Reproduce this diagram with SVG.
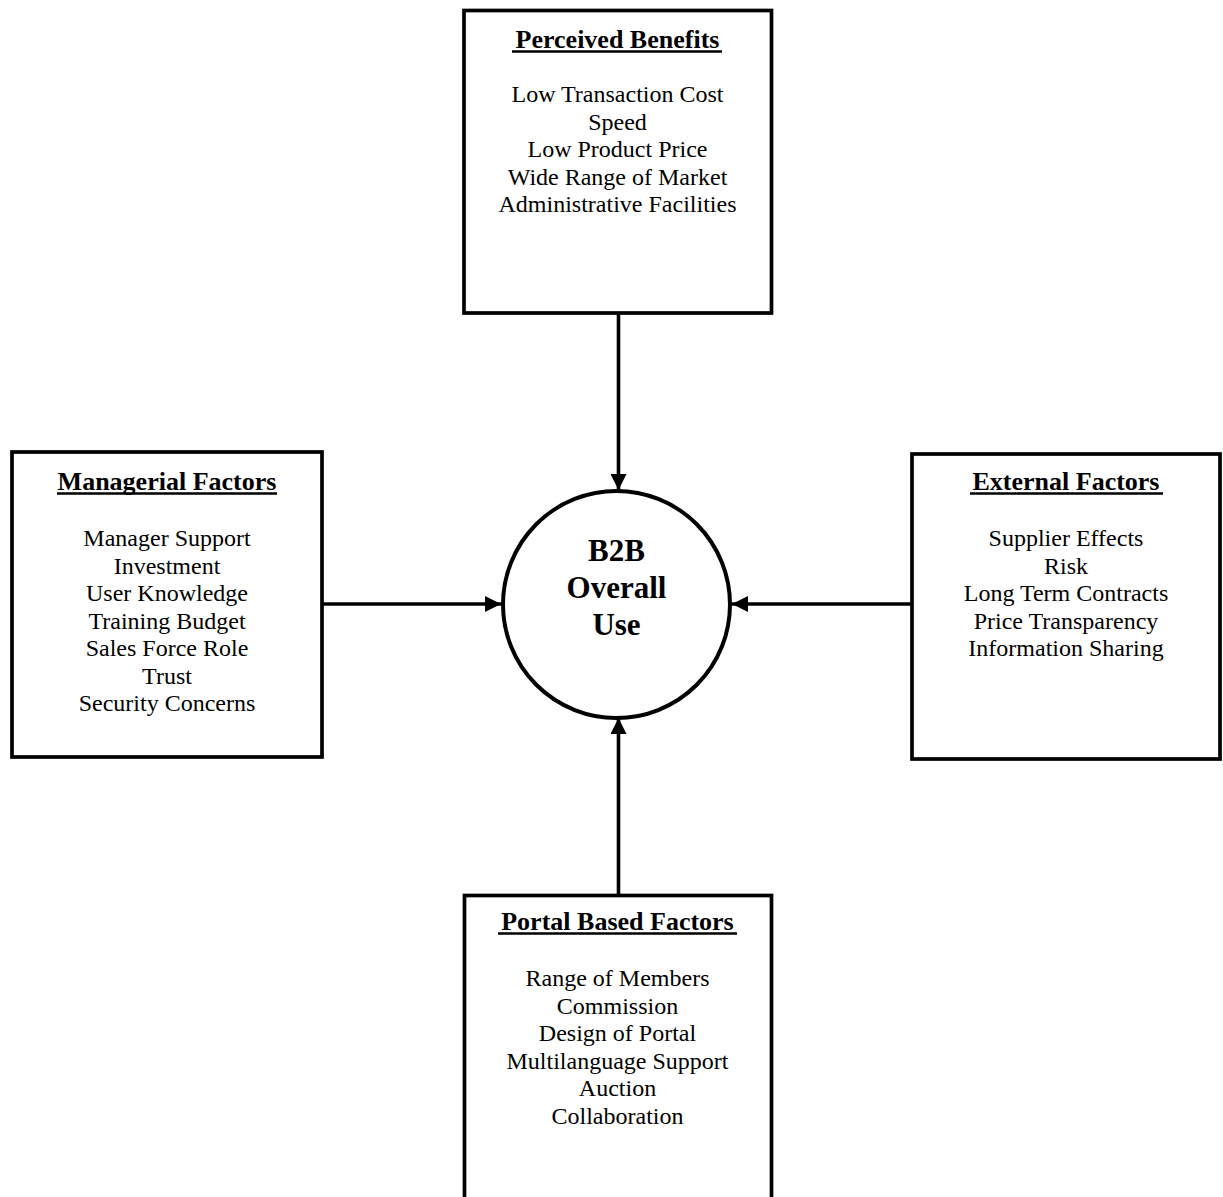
<svg xmlns="http://www.w3.org/2000/svg" width="1223" height="1197" viewBox="0 0 1223 1197">
  <style>
    .box { fill: #ffffff; stroke: #000000; stroke-width: 3.7; }
    .hub { fill: #ffffff; stroke: #000000; stroke-width: 4; }
    .title { font-family: "Liberation Serif", "Times New Roman", serif; font-weight: bold; font-size: 26px; text-anchor: middle; fill: #000; }
    .item { font-family: "Liberation Serif", "Times New Roman", serif; font-size: 24px; text-anchor: middle; fill: #000; }
    .hubtext { font-family: "Liberation Serif", "Times New Roman", serif; font-weight: bold; font-size: 31px; text-anchor: middle; fill: #000; }
    .ul { stroke: #000; stroke-width: 2.4; }
    .conn { stroke: #000; stroke-width: 3.6; fill: none; marker-end: url(#arrow); }
  </style>
  <defs>
    <marker id="arrow" markerUnits="userSpaceOnUse" markerWidth="16" markerHeight="16" refX="16" refY="8" orient="auto">
      <path d="M0,0 L16,8 L0,16 Z" fill="#000"/>
    </marker>
  </defs>
  <rect width="1223" height="1197" fill="#ffffff"/>

  <g id="connectors">
    <line class="conn" x1="618.5" y1="313" x2="618.5" y2="490"/>
    <line class="conn" x1="322" y1="604" x2="501" y2="604"/>
    <line class="conn" x1="912" y1="604" x2="732" y2="604"/>
    <line class="conn" x1="618.5" y1="895" x2="618.5" y2="718"/>
  </g>

  <g id="perceived-benefits">
    <rect class="box" x="464" y="10.5" width="307.5" height="302.5"/>
    <text class="title" x="617.5" y="48">Perceived Benefits</text>
    <line class="ul" x1="512" y1="51.5" x2="722" y2="51.5"/>
    <text class="item" x="617.5" y="102">Low Transaction Cost</text>
    <text class="item" x="617.5" y="129.5">Speed</text>
    <text class="item" x="617.5" y="157">Low Product Price</text>
    <text class="item" x="617.5" y="184.5">Wide Range of Market</text>
    <text class="item" x="617.5" y="212">Administrative Facilities</text>
  </g>

  <g id="managerial-factors">
    <rect class="box" x="12" y="452" width="310" height="305"/>
    <text class="title" x="167" y="490">Managerial Factors</text>
    <line class="ul" x1="57" y1="493.5" x2="277" y2="493.5"/>
    <text class="item" x="167" y="546">Manager Support</text>
    <text class="item" x="167" y="573.5">Investment</text>
    <text class="item" x="167" y="601">User Knowledge</text>
    <text class="item" x="167" y="628.5">Training Budget</text>
    <text class="item" x="167" y="656">Sales Force Role</text>
    <text class="item" x="167" y="683.5">Trust</text>
    <text class="item" x="167" y="711">Security Concerns</text>
  </g>

  <g id="external-factors">
    <rect class="box" x="912" y="454" width="308" height="305"/>
    <text class="title" x="1066" y="490">External Factors</text>
    <line class="ul" x1="970" y1="493.5" x2="1163" y2="493.5"/>
    <text class="item" x="1066" y="546">Supplier Effects</text>
    <text class="item" x="1066" y="573.5">Risk</text>
    <text class="item" x="1066" y="601">Long Term Contracts</text>
    <text class="item" x="1066" y="628.5">Price Transparency</text>
    <text class="item" x="1066" y="656">Information Sharing</text>
  </g>

  <g id="portal-based-factors">
    <rect class="box" x="464.5" y="895.5" width="307" height="320"/>
    <text class="title" x="617.5" y="930">Portal Based Factors</text>
    <line class="ul" x1="498" y1="933.5" x2="737" y2="933.5"/>
    <text class="item" x="617.5" y="986">Range of Members</text>
    <text class="item" x="617.5" y="1013.5">Commission</text>
    <text class="item" x="617.5" y="1041">Design of Portal</text>
    <text class="item" x="617.5" y="1068.5">Multilanguage Support</text>
    <text class="item" x="617.5" y="1096">Auction</text>
    <text class="item" x="617.5" y="1123.5">Collaboration</text>
  </g>

  <g id="b2b-overall-use">
    <circle class="hub" cx="616.5" cy="604.5" r="113.5"/>
    <text class="hubtext" x="616.5" y="561">B2B</text>
    <text class="hubtext" x="616.5" y="598">Overall</text>
    <text class="hubtext" x="616.5" y="635">Use</text>
  </g>
</svg>
